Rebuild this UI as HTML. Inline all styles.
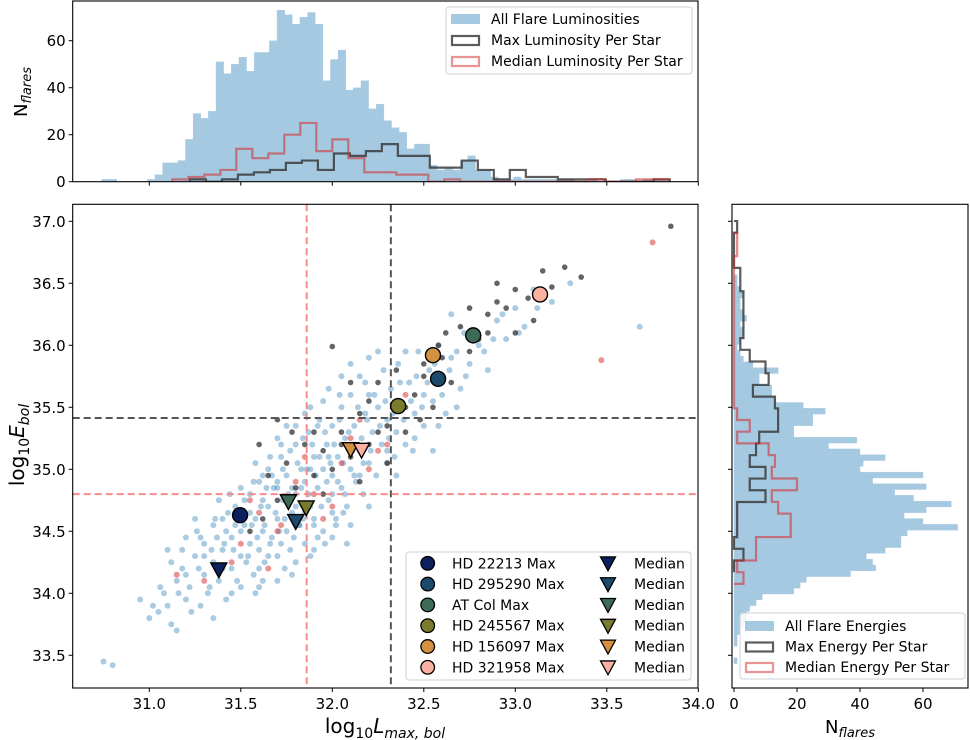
<!DOCTYPE html>
<html><head><meta charset="utf-8"><title>Flare luminosity vs energy</title>
<style>
html,body{margin:0;padding:0;background:#fff;}
svg{display:block;font-family:"DejaVu Sans","Liberation Sans",sans-serif;}
</style></head>
<body>
<svg id="chart" width="970" height="740" viewBox="0 0 970 740" xmlns="http://www.w3.org/2000/svg"></svg>
<script>
// ---------- DATA ----------
const topAllStart = 30.739, topAllWidth = 0.0417;
const topAllCounts = [1,1,0,0,0,0,1,3,8,8,9,18,29,27,30,51,46,50,53,47,55,55,60,73,71,67,70,72,67,43,52,56,39,40,43,31,33,26,23,21,14,16,16,7,5,6,5,9,11,5,5,2,1,1,2,1,1,1,1,1,1,1,0,0,1,0,0,0,1,1,0,1,1,1];
const topMaxStart = 31.222, topStepWidth = 0.0874;
const topMaxCounts = [1,0,1,3,4,5,8,9,5,12,11,13,16,11,11,6,6,9,5,1,5,2,2,1,1,1,0,0,0,1];
const topMedStart = 31.126;
const topMedCounts = [1,2,3,5,14,10,12,20,25,13,18,10,4,4,3,3,0,1,0,0,0,0,0,0,0,0,1,0,0,1,1];

const rightAllStart = 33.386, rightAllWidth = 0.0468;
const rightAllCounts = [0,1,0,0,1,1,2,3,4,4,5,7,9,19,21,23,37,45,44,42,48,53,53,55,71,60,54,61,69,57,51,61,44,60,40,41,48,40,30,39,19,19,25,25,29,22,13,12,12,8,8,14,6,3,2,1,2,3,3,2,4,3,2,2,3,2,1,1];
const rightMaxStart = 34.170, rightStepWidth = 0.0944;
const rightMaxCounts = [0,3,0,1,1,1,10,5,10,5,7,8,14,14,13,6,11,10,5,2,3,3,3,3,2,2,0,0,0,1];
const rightMedStart = 34.076;
const rightMedCounts = [3,1,7,7,18,18,14,12,20,12,13,11,1,5,1,0,0,0,0,0,0,0,0,0,0,0,0,0,1,1];

const flarePoints = [[30.75,33.45],[30.80,33.42],[31.0,33.8],[31.05,33.85],[31.1,33.9],[31.08,34.0],[31.12,33.75],[31.15,34.1],[31.2,33.95],[31.18,34.2],[31.22,34.05],[31.25,34.3],[31.28,33.9],[31.3,34.15],[31.3,34.4],[31.32,34.0],[31.35,34.25],[31.35,34.55],[31.38,34.1],[31.4,34.35],[31.4,34.6],[31.42,33.95],[31.45,34.2],[31.45,34.45],[31.47,34.7],[31.5,34.3],[31.5,34.05],[31.52,34.55],[31.55,34.4],[31.55,34.8],[31.57,34.15],[31.58,34.6],[31.6,34.35],[31.6,34.9],[31.62,34.5],[31.63,34.25],[31.65,34.7],[31.65,35.0],[31.67,34.45],[31.68,34.85],[31.7,34.3],[31.7,34.6],[31.72,35.1],[31.73,34.75],[31.75,34.5],[31.75,34.95],[31.77,34.35],[31.78,34.65],[31.8,35.2],[31.8,34.8],[31.82,34.55],[31.83,35.0],[31.85,34.4],[31.85,34.9],[31.87,35.3],[31.88,34.7],[31.9,34.6],[31.9,35.1],[31.92,34.85],[31.93,35.4],[31.95,34.5],[31.95,35.0],[31.97,35.2],[31.98,34.75],[32.0,34.95],[32.0,35.35],[32.02,34.6],[32.03,35.1],[32.05,35.5],[32.05,34.85],[32.07,35.25],[32.08,34.7],[32.1,35.0],[32.1,35.6],[32.12,35.35],[32.13,34.9],[32.15,35.15],[32.15,35.75],[32.17,34.8],[32.18,35.45],[32.2,35.05],[32.2,35.6],[32.22,35.3],[32.24,34.95],[32.25,35.5],[32.27,35.2],[32.28,35.8],[32.3,35.4],[32.3,35.05],[32.32,35.65],[32.35,35.3],[32.36,35.85],[32.38,35.5],[32.4,35.2],[32.42,35.7],[32.45,35.45],[32.47,35.95],[32.5,35.6],[32.5,35.35],[32.53,35.8],[32.55,35.55],[32.58,36.0],[32.6,35.7],[32.62,35.45],[32.65,35.9],[32.7,35.65],[32.72,36.1],[32.75,35.85],[32.8,36.0],[32.85,35.8],[32.9,36.2],[32.95,36.05],[33.0,36.3],[33.05,36.15],[33.1,36.45],[33.2,36.35],[33.3,36.5],[33.68,36.15],[31.1,34.35],[31.25,34.6],[31.5,34.85],[31.6,34.05],[31.7,34.1],[31.8,34.25],[31.9,34.35],[32.0,34.45],[31.58,35.05],[31.7,35.25],[31.85,35.45],[31.95,35.55],[32.1,34.55],[32.2,34.7],[32.35,34.95],[32.4,35.95],[32.55,35.15],[32.65,36.25],[30.95,33.95],[31.15,33.7],[31.35,33.8],[31.2,34.45],[31.45,34.0],[31.75,35.35],[32.05,35.75],[32.25,35.95],[31.62,34.75],[31.78,34.85],[31.88,35.0],[31.98,35.1],[32.12,35.2],[31.72,34.4],[31.82,34.55],[31.55,34.65],[31.65,34.3],[31.85,34.65],[32.0,34.8],[32.15,34.95],[32.3,35.15],[32.45,35.25],[31.42,34.5],[31.38,34.75],[31.28,34.45],[31.92,34.45],[32.08,34.4],
[31.3,34.3],[31.33,34.05],[31.37,34.45],[31.4,34.2],[31.43,34.65],[31.46,34.35],[31.48,34.1],[31.5,34.5],[31.52,34.75],[31.53,34.25],[31.56,34.55],[31.57,34.9],[31.59,34.45],[31.6,34.2],[31.61,34.7],[31.63,34.55],[31.64,34.85],[31.66,34.4],[31.67,34.95],[31.69,34.65],[31.7,34.85],[31.71,34.5],[31.73,35.0],[31.74,34.6],[31.76,34.8],[31.77,35.15],[31.79,34.45],[31.8,34.7],[31.81,35.05],[31.83,34.85],[31.84,34.6],[31.86,35.0],[31.87,34.8],[31.89,35.2],[31.9,34.55],[31.91,34.95],[31.93,35.1],[31.94,34.7],[31.96,35.3],[31.97,34.9],[31.99,35.05],[32.0,34.65],[32.01,35.2],[32.03,34.9],[32.04,35.4],[32.06,35.05],[32.07,34.8],[32.09,35.3],[32.11,35.15],[32.12,34.95],[32.14,35.5],[32.16,35.25],[32.17,35.05],[32.19,35.4],[32.21,35.15],[32.23,35.6],[32.26,35.35],[32.29,35.55],[32.31,35.25],[32.33,35.45],[32.37,35.7],[32.39,35.4],[32.43,35.55],[32.46,35.75],[32.49,35.5],[32.52,35.7],[32.56,35.85],[32.6,35.6],[32.64,35.8],[32.68,35.95],[32.73,35.75],[32.78,36.1],[32.83,35.95],[32.88,36.05],[32.93,36.25],[33.02,36.1],[33.12,36.3],[31.2,34.15],[31.23,33.85],[31.27,34.2],[31.16,34.0],[31.06,34.05],[31.02,33.9],[31.12,34.25],[31.34,34.35],[31.41,34.4],[31.47,34.55],[31.54,34.3],[31.58,34.0],[31.62,34.1],[31.74,34.2],[31.78,34.15],[31.88,34.3],[31.96,34.4],[32.02,34.55],[32.06,34.65],[31.66,35.1],[31.72,35.2],[31.8,35.35],[31.88,35.5],[31.98,35.65],[32.1,35.85],[32.2,35.9],[31.44,34.8],[31.36,34.6],[31.26,34.5],[31.18,34.35],[31.62,34.95],[31.7,34.9],[31.84,35.25],[31.92,35.35],[32.04,35.6],[32.18,35.7],[32.34,35.1],[32.44,35.15],[32.58,35.35],[32.68,35.5]];
const maxPoints = [[33.85,36.96],[33.27,36.63],[33.36,36.55],[33.2,36.47],[33.07,36.38],[32.9,36.5],[32.95,36.3],[32.85,36.25],[33.1,36.2],[32.7,36.15],[32.75,35.95],[32.6,35.9],[32.5,35.85],[32.45,35.6],[32.55,35.5],[32.35,35.55],[32.3,35.35],[32.25,35.7],[32.2,35.2],[32.15,35.45],[32.1,35.1],[32.05,35.3],[32.0,35.99],[32.0,35.0],[31.95,35.15],[31.9,34.95],[31.85,35.2],[31.8,34.85],[31.75,35.05],[31.7,34.75],[31.65,34.95],[31.62,34.6],[31.6,35.2],[31.9,35.3],[32.3,35.05],[32.4,35.3],[32.65,35.7],[32.8,36.05],[33.0,36.1],[32.9,36.35],[32.2,35.55],[32.1,35.7],[32.05,35.2],[31.95,34.8],[31.78,35.3],[31.85,34.7],[32.35,35.8],[32.58,36.0],[32.48,35.4],[32.62,36.1],[32.75,36.3],[33.15,36.6],[32.4,35.5],[32.25,35.3],[31.7,35.4],[31.55,34.5],[32.15,34.9],[32.5,35.75],[32.85,36.1],[33.0,36.45]];
const medianPoints = [[33.75,36.83],[33.47,35.88],[32.05,35.05],[32.2,35.0],[31.3,34.1],[31.15,34.15],[31.9,34.8],[31.7,34.5],[31.6,34.65],[31.8,34.9],[32.0,34.7],[31.75,34.75],[31.85,35.1],[32.1,35.25],[32.3,35.2],[31.5,34.4],[31.65,34.2],[31.95,34.6],[32.15,35.4],[32.4,35.6],[31.45,34.25],[32.25,35.15],[31.55,34.75],[31.72,34.55]];

const starNames = ["HD 22213","HD 295290","AT Col","HD 245567","HD 156097","HD 321958"];
const starColors = ["#0c1f5e","#1b4a6b","#3e6b57","#7b7b30","#d4913f","#fbb1a1"];
const starMaxL = [31.496,32.578,32.77,32.36,32.55,33.135];
const starMaxE = [34.63,35.73,36.08,35.51,35.92,36.41];
const starMedL = [31.38,31.8,31.76,31.857,32.1,32.16];
const starMedE = [34.19,34.58,34.74,34.69,35.16,35.155];

const medianL = 31.86, maxL = 32.32, medianE = 34.80, maxE = 35.414;
const mainXTicks = [31.0,31.5,32.0,32.5,33.0,33.5,34.0];
const mainYTicks = [33.5,34.0,34.5,35.0,35.5,36.0,36.5,37.0];
const histTicks = [0,20,40,60];

// ---------- SCALES ----------
const X = L => 149.3 + (L-31)*183;
const Y = E => 221.3 + (37-E)*124;
const YT = c => 181.7 - c*2.35;
const XR = c => 734 + c*3.15;
const MAIN = {x0:72.7,x1:698,y0:204.3,y1:688};
const TOP = {x0:72.7,x1:698,y0:1,y1:181.7};
const RIGHT = {x0:732,x1:968,y0:204.3,y1:688};

const NS = "http://www.w3.org/2000/svg";
const svg = document.getElementById('chart');
function mk(tag, attrs, parent){
  const e = document.createElementNS(NS, tag);
  for (const k in attrs) e.setAttribute(k, attrs[k]);
  (parent||svg).appendChild(e);
  return e;
}
const defs = mk('defs',{});
function clip(id,p){const c=mk('clipPath',{id:id},defs);mk('rect',{x:p.x0,y:p.y0,width:p.x1-p.x0,height:p.y1-p.y0},c);}
clip('cm',MAIN);clip('ct',TOP);clip('cr',RIGHT);

// ---------- TOP HISTOGRAM ----------
const gTop = mk('g',{'clip-path':'url(#ct)'});


topAllCounts.forEach((c,i)=>{
  if(!c) return;
  const xa = X(topAllStart+i*topAllWidth), xb = X(topAllStart+(i+1)*topAllWidth);
  const r = mk('rect',{x:xa,y:YT(c),width:xb-xa,height:YT(0)-YT(c),fill:'#1f77b4','fill-opacity':0.4,stroke:'#aecde4','stroke-width':0.4},gTop);
  
  
});
function stepH(start,w,counts){
  let d=`M${X(start)},${YT(0)}`;
  counts.forEach((c,i)=>{d+=`L${X(start+i*w)},${YT(c)}L${X(start+(i+1)*w)},${YT(c)}`;});
  d+=`L${X(start+counts.length*w)},${YT(0)}`;return d;
}
const tMax = mk('path',{d:stepH(topMaxStart,topStepWidth,topMaxCounts),fill:'none',stroke:'#333','stroke-opacity':0.8,'stroke-width':2.2},gTop);


const tMed = mk('path',{d:stepH(topMedStart,topStepWidth,topMedCounts),fill:'none',stroke:'#d62728','stroke-opacity':0.55,'stroke-width':2.2},gTop);



// ---------- RIGHT HISTOGRAM ----------
const gR = mk('g',{'clip-path':'url(#cr)'});


rightAllCounts.forEach((c,i)=>{
  if(!c) return;
  const ya = Y(rightAllStart+(i+1)*rightAllWidth), yb = Y(rightAllStart+i*rightAllWidth);
  const r = mk('rect',{x:XR(0),y:ya,width:XR(c)-XR(0),height:yb-ya,fill:'#1f77b4','fill-opacity':0.4,stroke:'#aecde4','stroke-width':0.4},gR);
  
  
});
function stepV(start,w,counts){
  let d=`M${XR(0)},${Y(start)}`;
  counts.forEach((c,i)=>{d+=`L${XR(c)},${Y(start+i*w)}L${XR(c)},${Y(start+(i+1)*w)}`;});
  d+=`L${XR(0)},${Y(start+counts.length*w)}`;return d;
}
const rMax = mk('path',{d:stepV(rightMaxStart,rightStepWidth,rightMaxCounts),fill:'none',stroke:'#333','stroke-opacity':0.8,'stroke-width':2.2},gR);


const rMed = mk('path',{d:stepV(rightMedStart,rightStepWidth,rightMedCounts),fill:'none',stroke:'#d62728','stroke-opacity':0.55,'stroke-width':2.2},gR);



// ---------- MAIN SCATTER ----------
const gM = mk('g',{'clip-path':'url(#cm)'});


flarePoints.forEach(p=>{
  const c = mk('circle',{cx:X(p[0]),cy:Y(p[1]),r:3,fill:'#1f77b4','fill-opacity':0.38},gM);
  
  
});
medianPoints.forEach(p=>{
  const c = mk('circle',{cx:X(p[0]),cy:Y(p[1]),r:3,fill:'#d62728','fill-opacity':0.5},gM);
  
  
});
maxPoints.forEach(p=>{
  const c = mk('circle',{cx:X(p[0]),cy:Y(p[1]),r:2.8,fill:'#222','fill-opacity':0.7},gM);
  
  
});
const dl = [
  {x1:X(medianL),y1:MAIN.y0,x2:X(medianL),y2:MAIN.y1,c:'#f58b8b',n:'median-luminosity-line'},
  {x1:X(maxL),y1:MAIN.y0,x2:X(maxL),y2:MAIN.y1,c:'#555',n:'max-luminosity-line'},
  {x1:MAIN.x0,y1:Y(medianE),x2:MAIN.x1,y2:Y(medianE),c:'#f58b8b',n:'median-energy-line'},
  {x1:MAIN.x0,y1:Y(maxE),x2:MAIN.x1,y2:Y(maxE),c:'#555',n:'max-energy-line'}];
dl.forEach(o=>{
  const l = mk('line',{x1:o.x1,y1:o.y1,x2:o.x2,y2:o.y2,stroke:o.c,'stroke-width':2,'stroke-dasharray':'7,4'},gM);
  
  
});
function tri(cx,cy,s){return `M${cx-s},${cy-s*0.85}L${cx+s},${cy-s*0.85}L${cx},${cy+s}Z`;}
starNames.forEach((n,i)=>{
  const t = mk('path',{d:tri(X(starMedL[i]),Y(starMedE[i]),8),fill:starColors[i],stroke:'#000','stroke-width':1.4},gM);
  
  
});
starNames.forEach((n,i)=>{
  const c = mk('circle',{cx:X(starMaxL[i]),cy:Y(starMaxE[i]),r:7.5,fill:starColors[i],stroke:'#000','stroke-width':1.4},gM);
  
  
});

// ---------- FRAMES & TICKS ----------
[[MAIN,'main-axes-frame'],[TOP,'top-axes-frame'],[RIGHT,'right-axes-frame']].forEach(a=>{
  const p=a[0];
  const r = mk('rect',{x:p.x0,y:p.y0,width:p.x1-p.x0,height:p.y1-p.y0,fill:'none',stroke:'#000','stroke-width':1.1});
  
  
});
const tickStyle={stroke:'#000','stroke-width':1};
mainXTicks.forEach(v=>{
  mk('line',Object.assign({x1:X(v),x2:X(v),y1:MAIN.y1,y2:MAIN.y1+4},tickStyle));
  mk('line',Object.assign({x1:X(v),x2:X(v),y1:TOP.y1,y2:TOP.y1+4},tickStyle));
  const t = mk('text',{x:X(v),y:709,'font-size':15,'text-anchor':'middle',fill:'#000'});
  t.textContent=v.toFixed(1);
  
  
});
mainYTicks.forEach(v=>{
  mk('line',Object.assign({x1:MAIN.x0-4,x2:MAIN.x0,y1:Y(v),y2:Y(v)},tickStyle));
  mk('line',Object.assign({x1:RIGHT.x0-4,x2:RIGHT.x0,y1:Y(v),y2:Y(v)},tickStyle));
  const t = mk('text',{x:MAIN.x0-7,y:Y(v)+5.5,'font-size':15,'text-anchor':'end',fill:'#000'});
  t.textContent=v.toFixed(1);
  
  
});
histTicks.forEach(v=>{
  mk('line',Object.assign({x1:TOP.x0-4,x2:TOP.x0,y1:YT(v),y2:YT(v)},tickStyle));
  const t = mk('text',{x:TOP.x0-7,y:YT(v)+5.5,'font-size':15,'text-anchor':'end',fill:'#000'});
  t.textContent=String(v);
  
  
  mk('line',Object.assign({x1:XR(v),x2:XR(v),y1:RIGHT.y1,y2:RIGHT.y1+4},tickStyle));
  const t2 = mk('text',{x:XR(v),y:709,'font-size':15,'text-anchor':'middle',fill:'#000'});
  t2.textContent=String(v);
  
  
});

// ---------- LEGENDS ----------
const lgT = mk('g',{});


mk('rect',{x:446,y:7,width:246,height:67,rx:3,fill:'#fff','fill-opacity':0.85,stroke:'#d0d0d0'},lgT);
const topLeg=[['All Flare Luminosities','fill'],['Max Luminosity Per Star','#333'],['Median Luminosity Per Star','#d62728']];
topLeg.forEach((e,i)=>{
  const y=19+i*21;
  if(e[1]==='fill') mk('rect',{x:451,y:y-5,width:29,height:10,fill:'#1f77b4','fill-opacity':0.4},lgT);
  else mk('rect',{x:452,y:y-4,width:27,height:9,fill:'none',stroke:e[1],'stroke-opacity':e[1]==='#333'?0.8:0.5,'stroke-width':2.2},lgT);
  const t=mk('text',{x:491,y:y+5,'font-size':14,fill:'#000'},lgT);
  t.textContent=e[0];
  
  
});
const lgR = mk('g',{});


mk('rect',{x:740,y:613,width:225,height:66,rx:3,fill:'#fff','fill-opacity':0.85,stroke:'#d0d0d0'},lgR);
const rLeg=[['All Flare Energies','fill'],['Max Energy Per Star','#333'],['Median Energy Per Star','#d62728']];
rLeg.forEach((e,i)=>{
  const y=626+i*20.5;
  if(e[1]==='fill') mk('rect',{x:745,y:y-5,width:29,height:10,fill:'#1f77b4','fill-opacity':0.4},lgR);
  else mk('rect',{x:746,y:y-4,width:27,height:9,fill:'none',stroke:e[1],'stroke-opacity':e[1]==='#333'?0.8:0.5,'stroke-width':2.2},lgR);
  const t=mk('text',{x:785,y:y+5,'font-size':14,fill:'#000'},lgR);
  t.textContent=e[0];
  
  
});
const lgM = mk('g',{});


mk('rect',{x:406,y:552,width:285,height:128,rx:3,fill:'#fff','fill-opacity':0.85,stroke:'#d0d0d0'},lgM);
starNames.forEach((n,i)=>{
  const y=563.3+i*20.8;
  mk('circle',{cx:427.7,cy:y,r:6.8,fill:starColors[i],stroke:'#000','stroke-width':1.3},lgM);
  const t=mk('text',{x:452,y:y+5,'font-size':14,fill:'#000'},lgM);
  t.textContent=n+' Max';
  
  
  mk('path',{d:tri(608,y,7.5),fill:starColors[i],stroke:'#000','stroke-width':1.3},lgM);
  const t2=mk('text',{x:634,y:y+5,'font-size':14,fill:'#000'},lgM);
  t2.textContent='Median';
  
  
});
</script>
<svg width="970" height="740" style="position:absolute;left:0;top:0;pointer-events:none;font-family:'DejaVu Sans','Liberation Sans',sans-serif">
  <text x="385" y="733" font-size="20" text-anchor="middle">log<tspan font-size="14" dy="5">10</tspan><tspan dy="-5" font-style="italic">L</tspan><tspan font-size="14" dy="5" font-style="italic">max, bol</tspan></text>
  <text x="850" y="733" font-size="18" text-anchor="middle">N<tspan font-size="13" dy="4" font-style="italic">flares</tspan></text>
  <text transform="translate(24,445) rotate(-90)" font-size="20" text-anchor="middle">log<tspan font-size="14" dy="5">10</tspan><tspan dy="-5" font-style="italic">E</tspan><tspan font-size="14" dy="5" font-style="italic">bol</tspan></text>
  <text transform="translate(27,92) rotate(-90)" font-size="18" text-anchor="middle">N<tspan font-size="13" dy="4" font-style="italic">flares</tspan></text>
</svg>
</body></html>
